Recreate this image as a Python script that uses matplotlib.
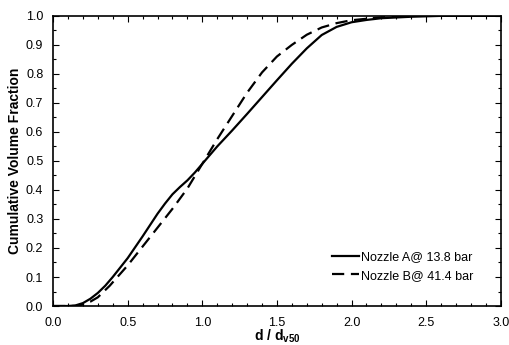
import matplotlib
matplotlib.use("Agg")
import matplotlib.pyplot as plt
from matplotlib.ticker import MultipleLocator, FormatStrFormatter

plt.rcParams['font.family'] = ['Liberation Sans', 'DejaVu Sans']
plt.rcParams['mathtext.fontset'] = 'custom'
plt.rcParams['mathtext.rm'] = 'Liberation Sans'
plt.rcParams['mathtext.bf'] = 'Liberation Sans:bold'

# Nozzle A @ 13.8 bar (solid)
xa = [0.0, 0.1, 0.15, 0.2, 0.25, 0.3, 0.35, 0.4, 0.5, 0.6, 0.7, 0.75, 0.8, 0.85, 0.9,
      0.95, 1.0, 1.1, 1.2, 1.3, 1.4, 1.5, 1.6, 1.7, 1.8, 1.9, 2.0, 2.1, 2.2, 2.4, 2.6, 3.0]
ya = [0.0, 0.0, 0.002, 0.01, 0.025, 0.045, 0.07, 0.10, 0.165, 0.24, 0.318, 0.353,
      0.385, 0.41, 0.433, 0.46, 0.49, 0.55, 0.605, 0.662, 0.72, 0.778, 0.835, 0.888,
      0.934, 0.962, 0.978, 0.986, 0.992, 0.997, 1.0, 1.0]

# Nozzle B @ 41.4 bar (dashed)
xb = [0.0, 0.15, 0.2, 0.25, 0.3, 0.38, 0.5, 0.6, 0.7, 0.8, 0.9, 1.0, 1.1, 1.2, 1.3,
      1.4, 1.5, 1.6, 1.7, 1.8, 1.9, 2.0, 2.2, 2.4, 3.0]
yb = [0.0, 0.0, 0.005, 0.015, 0.03, 0.07, 0.14, 0.205, 0.27, 0.335, 0.405, 0.49,
      0.575, 0.655, 0.735, 0.805, 0.86, 0.90, 0.935, 0.96, 0.975, 0.985, 0.995,
      1.0, 1.0]

labels = ["Nozzle A@ 13.8 bar", "Nozzle B@ 41.4 bar"]

fig = plt.figure(figsize=(5.1, 3.45), dpi=100)
ax = fig.add_axes([0.104, 0.113, 0.878, 0.841])

ax.plot(xa, ya, color='black', lw=1.6, label=labels[0])
ax.plot(xb, yb, color='black', lw=1.6, dashes=(5.5, 3), label=labels[1])

ax.set_xlim(0, 3.0)
ax.set_ylim(0, 1.0)
ax.xaxis.set_major_locator(MultipleLocator(0.5))
ax.xaxis.set_minor_locator(MultipleLocator(0.1))
ax.yaxis.set_major_locator(MultipleLocator(0.1))
ax.yaxis.set_minor_locator(MultipleLocator(0.05))
ax.xaxis.set_major_formatter(FormatStrFormatter('%.1f'))
ax.yaxis.set_major_formatter(FormatStrFormatter('%.1f'))
ax.tick_params(which='both', direction='in', top=True, right=True, labelsize=9,
               width=0.8)
ax.tick_params(axis='x', which='major', pad=8)
ax.tick_params(axis='y', which='major', pad=7)
ax.tick_params(which='major', length=4)
ax.tick_params(which='minor', length=2)
for s in ax.spines.values():
    s.set_linewidth(1.2)

ax.set_xlabel(r'd / d$_{\mathbf{v50}}$', fontsize=10, fontweight='bold', labelpad=-1)
ax.set_ylabel('Cumulative Volume Fraction', fontsize=10, fontweight='bold', labelpad=3)

leg = ax.legend(loc='upper left', bbox_to_anchor=(0.609, 0.21), frameon=False,
                borderpad=0, fontsize=9, handlelength=2.2, handletextpad=0.15,
                labelspacing=0.5)

fig.savefig('out.png', dpi=100)
